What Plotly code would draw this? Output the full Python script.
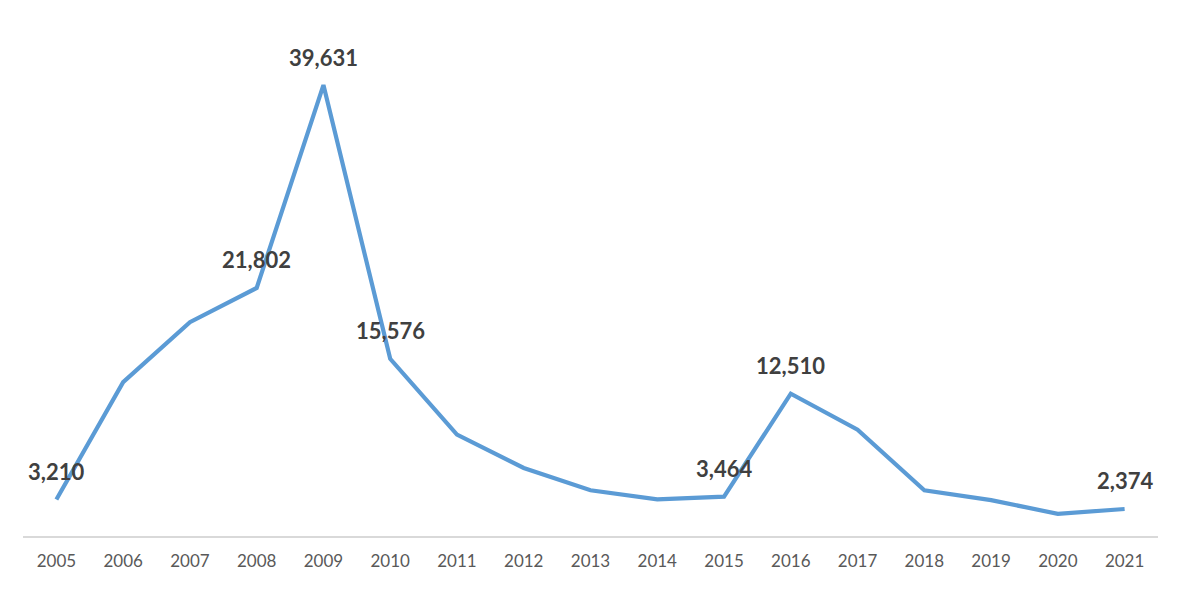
import plotly.graph_objects as go

years = ["2005", "2006", "2007", "2008", "2009", "2010", "2011", "2012", "2013",
         "2014", "2015", "2016", "2017", "2018", "2019", "2020", "2021"]
values = [3210, 13520, 18790, 21802, 39631, 15576, 8916, 5979, 4018,
          3214, 3464, 12510, 9348, 4018, 3154, 1944, 2374]
labeled_years = ["2005", "2008", "2009", "2010", "2015", "2016", "2021"]

fig = go.Figure()
fig.add_trace(go.Scatter(
    x=years, y=values, mode="lines",
    line=dict(color="#5B9BD5", width=4.2),
    hoverinfo="x+y",
))

for i, (yr, v) in enumerate(zip(years, values)):
    if yr in labeled_years:
        fig.add_annotation(
            x=i, y=v, xref="x", yref="y", text=f"{v:,}", showarrow=False, yshift=28,
            font=dict(family="Lato", size=22, color="#404040", weight="bold"),
        )

fig.update_layout(
    width=1165, height=575,
    margin=dict(l=15, r=15, t=16, b=32),
    paper_bgcolor="white", plot_bgcolor="white",
    showlegend=False,
    xaxis=dict(
        type="category", range=[-0.5, 16.5],
        showline=True, linecolor="#D9D9D9", linewidth=1.5,
        showgrid=False, zeroline=False, ticks="",
        tickfont=dict(family="Lato", size=17, color="#595959"),
        ticklabelstandoff=9,
    ),
    yaxis=dict(
        range=[0, 45000], visible=False, showgrid=False, zeroline=False,
    ),
)

fig.write_html("out.html")
